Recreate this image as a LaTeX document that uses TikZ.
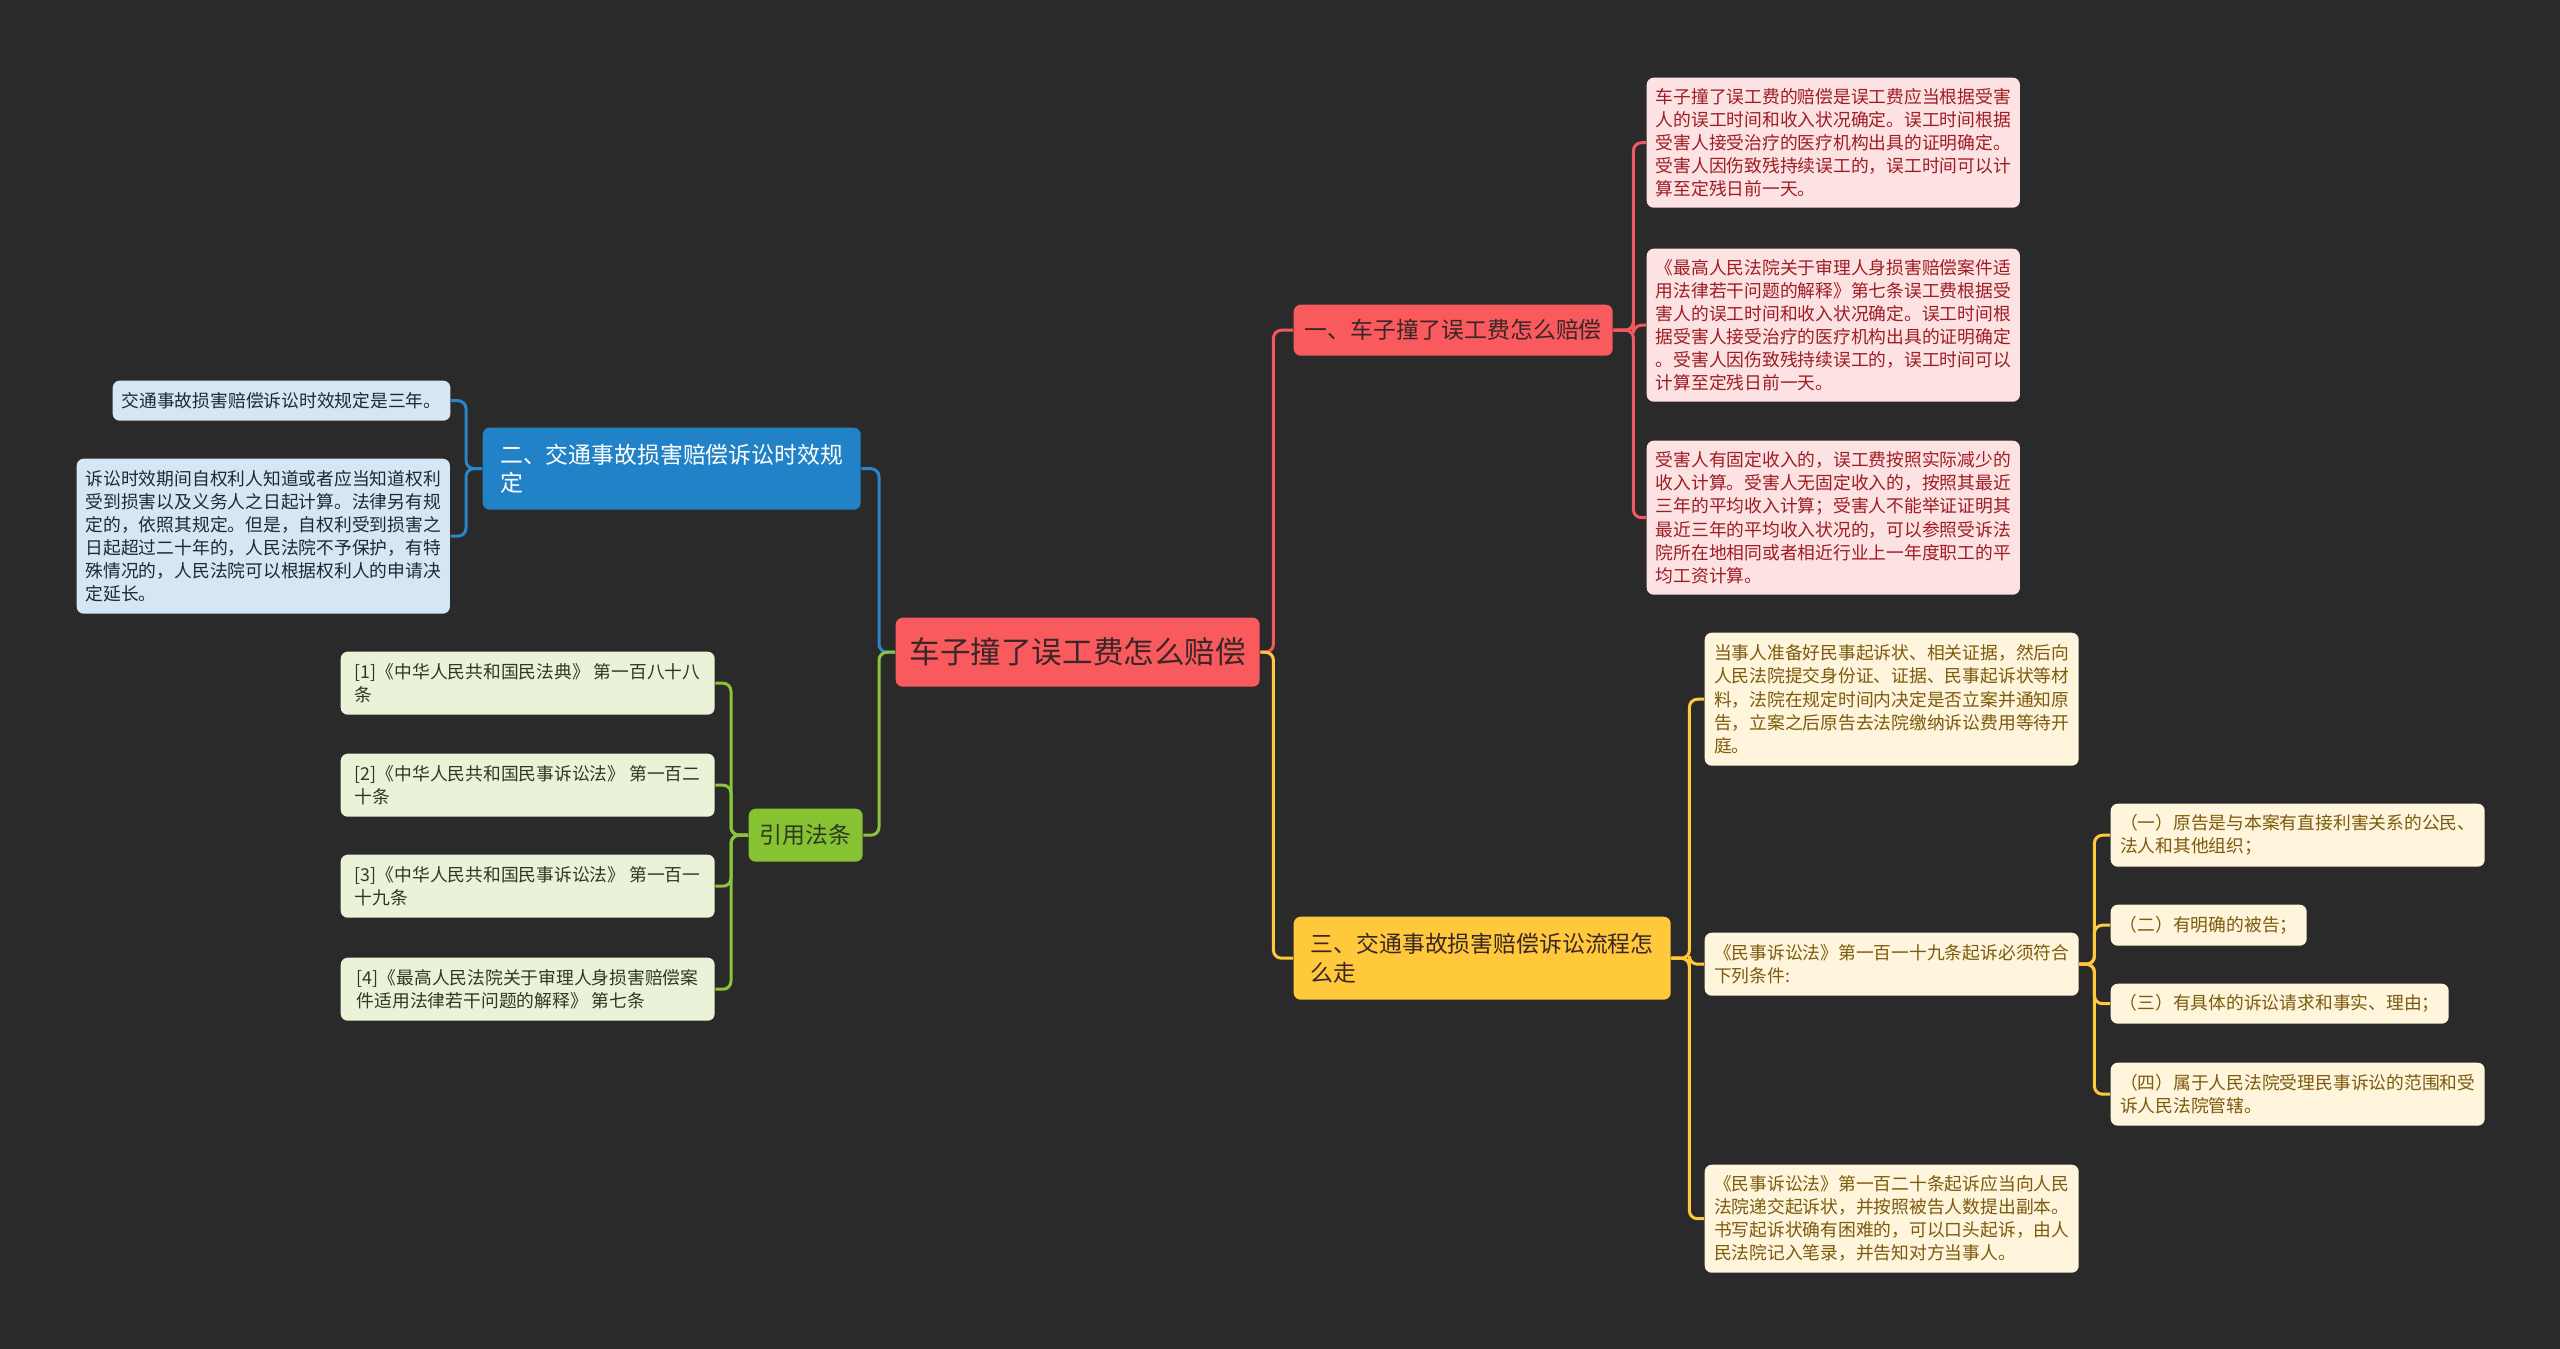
\documentclass[tikz,border=0pt]{standalone}
\usepackage{fontspec}
\setmainfont{Noto Sans CJK SC}
\definecolor{bg}{HTML}{2A2A2A}
\definecolor{redf}{HTML}{F85A5E}
\definecolor{redl}{HTML}{FDE2E3}
\definecolor{redt}{HTML}{9E1D24}
\definecolor{redline}{HTML}{F0595E}
\definecolor{bluef}{HTML}{2182C8}
\definecolor{bluel}{HTML}{D5E7F4}
\definecolor{bluet}{HTML}{1C2A38}
\definecolor{blueline}{HTML}{2A86C8}
\definecolor{grnf}{HTML}{86C232}
\definecolor{grnl}{HTML}{EAF3D8}
\definecolor{grnt}{HTML}{2E3A20}
\definecolor{grnline}{HTML}{8BC33A}
\definecolor{yelf}{HTML}{FFC93B}
\definecolor{yell}{HTML}{FEF5DC}
\definecolor{yelt}{HTML}{7D5A0C}
\definecolor{yelline}{HTML}{FFC93B}
\definecolor{darkt}{HTML}{3A2626}
\newcommand\mbx[7]{\node[#2, anchor=north west, minimum width={(#5-#3)*0.01cm}, minimum height={(#6-#4)*0.01cm}] (#1) at (#3,#4) {#7};}
\tikzset{
  bx/.style={rounded corners=0.07cm, inner xsep=0.09cm, inner ysep=0.04cm, align=left},
  lf/.style={bx, font=\fontsize{5.05pt}{6.55pt}\selectfont},
  br/.style={bx, font=\fontsize{6.5pt}{8pt}\selectfont},
  ln/.style={line width=0.03cm, rounded corners=0.08cm},
  redln/.style={ln, draw=redline},
  bluln/.style={ln, draw=blueline},
  grnln/.style={ln, draw=grnline},
  yelln/.style={ln, draw=yelline},
}
\begin{document}
\begin{tikzpicture}[x=0.01cm,y=-0.01cm]
\fill[bg] (0,0) rectangle (2560,1349);
\useasboundingbox (0,0) rectangle (2560,1349);
% central
\mbx{c}{bx, fill=redf, text=darkt, font=\fontsize{8.7pt}{10pt}\selectfont, align=center}{895}{617}{1259}{686}{车子撞了误工费怎么赔偿}
% branches
\mbx{b1}{br, fill=redf, text=darkt}{1293}{304}{1612}{355}{一、车子撞了误工费怎么赔偿}
\mbx{b2}{br, fill=bluef, text=white}{482}{427}{860}{509}{二、交通事故损害赔偿诉讼时效规\\定}
\mbx{b3}{br, fill=yelf, text=darkt}{1293}{916}{1670}{999}{三、交通事故损害赔偿诉讼流程怎\\么走}
\mbx{b4}{br, fill=grnf, text=grnt, align=center}{748}{808}{862}{861}{引用法条}
% red leaves
\mbx{r1}{lf, fill=redl, text=redt}{1646}{77}{2019}{207}{车子撞了误工费的赔偿是误工费应当根据受害\\人的误工时间和收入状况确定。误工时间根据\\受害人接受治疗的医疗机构出具的证明确定。\\受害人因伤致残持续误工的，误工时间可以计\\算至定残日前一天。}
\mbx{r2}{lf, fill=redl, text=redt}{1646}{248}{2019}{401}{《最高人民法院关于审理人身损害赔偿案件适\\用法律若干问题的解释》第七条误工费根据受\\害人的误工时间和收入状况确定。误工时间根\\据受害人接受治疗的医疗机构出具的证明确定\\。受害人因伤致残持续误工的，误工时间可以\\计算至定残日前一天。}
\mbx{r3}{lf, fill=redl, text=redt}{1646}{440}{2019}{594}{受害人有固定收入的，误工费按照实际减少的\\收入计算。受害人无固定收入的，按照其最近\\三年的平均收入计算；受害人不能举证证明其\\最近三年的平均收入状况的，可以参照受诉法\\院所在地相同或者相近行业上一年度职工的平\\均工资计算。}
% blue leaves
\mbx{u1}{lf, fill=bluel, text=bluet}{112}{380}{449}{420}{交通事故损害赔偿诉讼时效规定是三年。}
\mbx{u2}{lf, fill=bluel, text=bluet}{76}{458}{449}{613}{诉讼时效期间自权利人知道或者应当知道权利\\受到损害以及义务人之日起计算。法律另有规\\定的，依照其规定。但是，自权利受到损害之\\日起超过二十年的，人民法院不予保护，有特\\殊情况的，人民法院可以根据权利人的申请决\\定延长。}
% green leaves
\mbx{g1}{lf, fill=grnl, text=grnt}{340}{651}{714}{714}{[1]《中华人民共和国民法典》 第一百八十八\\条}
\mbx{g2}{lf, fill=grnl, text=grnt}{340}{753}{714}{816}{[2]《中华人民共和国民事诉讼法》 第一百二\\十条}
\mbx{g3}{lf, fill=grnl, text=grnt}{340}{854}{714}{917}{[3]《中华人民共和国民事诉讼法》 第一百一\\十九条}
\mbx{g4}{lf, fill=grnl, text=grnt}{340}{957}{714}{1020}{[4]《最高人民法院关于审理人身损害赔偿案\\件适用法律若干问题的解释》 第七条}
% yellow leaves
\mbx{y1}{lf, fill=yell, text=yelt}{1704}{632}{2078}{765}{当事人准备好民事起诉状、相关证据，然后向\\人民法院提交身份证、证据、民事起诉状等材\\料，法院在规定时间内决定是否立案并通知原\\告，立案之后原告去法院缴纳诉讼费用等待开\\庭。}
\mbx{y2}{lf, fill=yell, text=yelt}{1704}{932}{2078}{995}{《民事诉讼法》第一百一十九条起诉必须符合\\下列条件:}
\mbx{y3}{lf, fill=yell, text=yelt}{1704}{1164}{2078}{1272}{《民事诉讼法》第一百二十条起诉应当向人民\\法院递交起诉状，并按照被告人数提出副本。\\书写起诉状确有困难的，可以口头起诉，由人\\民法院记入笔录，并告知对方当事人。}
\mbx{s1}{lf, fill=yell, text=yelt}{2110}{803}{2484}{866}{（一）原告是与本案有直接利害关系的公民、\\法人和其他组织；}
\mbx{s2}{lf, fill=yell, text=yelt}{2110}{904}{2306}{945}{（二）有明确的被告；}
\mbx{s3}{lf, fill=yell, text=yelt}{2110}{983}{2448}{1023}{（三）有具体的诉讼请求和事实、理由；}
\mbx{s4}{lf, fill=yell, text=yelt}{2110}{1062}{2484}{1125}{（四）属于人民法院受理民事诉讼的范围和受\\诉人民法院管辖。}
% connectors
\draw[redln] (c.east) -- ++(13,0) |- (b1.west);
\draw[yelln] (c.east) -- ++(13,0) |- (b3.west);
\draw[bluln] (c.west) -- ++(-16,0) |- (b2.east);
\draw[grnln] (c.west) -- ++(-16,0) |- (b4.east);
\foreach \n in {r1,r2,r3} {\draw[redln] (b1.east) -- ++(20,0) |- (\n.west);}
\foreach \n in {u1,u2} {\draw[bluln] (b2.west) -- ++(-16,0) |- (\n.east);}
\foreach \n in {g1,g2,g3,g4} {\draw[grnln] (b4.west) -- ++(-17,0) |- (\n.east);}
\foreach \n in {y1,y2,y3} {\draw[yelln] (b3.east) -- ++(18,0) |- (\n.west);}
\foreach \n in {s1,s2,s3,s4} {\draw[yelln] (y2.east) -- ++(15,0) |- (\n.west);}
\end{tikzpicture}
\end{document}
